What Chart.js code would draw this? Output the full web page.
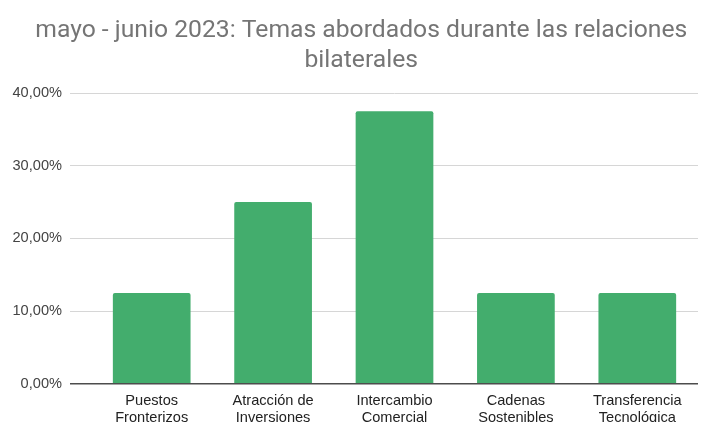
<!DOCTYPE html>
<html>
<head>
<meta charset="utf-8">
<script src="https://cdn.jsdelivr.net/npm/chart.js@4"></script>
<style>
  html, body { margin: 0; padding: 0; background: #fff; overflow: hidden; }
  .wrap { width: 707px; height: 422px; overflow: hidden; }
</style>
</head>
<body>
<div class="wrap"><canvas id="chart" width="707" height="440"></canvas></div>
<script>
const titleLines = [
  "mayo - junio 2023: Temas abordados durante las relaciones",
  "bilaterales",
];
const categories = [
  ["Puestos", "Fronterizos"],
  ["Atracción de", "Inversiones"],
  ["Intercambio", "Comercial"],
  ["Cadenas", "Sostenibles"],
  ["Transferencia", "Tecnológica"],
];
const shares = [0.125, 0.25, 0.375, 0.125, 0.125];
const yTicks = [0, 0.1, 0.2, 0.3, 0.4];

const fmtPct = (v) => (v * 100).toFixed(2).replace(".", ",") + "%";
// the title sits a little right of centre in the original
const nudge = "\u00a0\u00a0\u00a0\u00a0";

const ctx = document.getElementById("chart").getContext("2d");
const chart = new Chart(ctx, {
  type: "bar",
  data: {
    labels: categories,
    datasets: [
      {
        label: "Temas",
        data: shares,
        backgroundColor: "#43ad6d",
        borderRadius: 2,
        categoryPercentage: 1,
        barPercentage: 0.64,
      },
    ],
  },
  options: {
    responsive: false,
    animation: false,
    layout: { padding: { left: 0, right: 9, top: 0, bottom: 4 } },
    plugins: {
      legend: { display: false },
      tooltip: { enabled: false },
      title: {
        display: true,
        text: titleLines.map((t) => nudge + t),
        color: "#757575",
        font: { family: "Roboto", size: 24.7, weight: "normal", lineHeight: 1.215 },
        padding: { top: 16, bottom: 17 },
      },
    },
    scales: {
      x: {
        grid: { display: false, drawTicks: false },
        border: { display: false },
        ticks: {
          color: "#222",
          font: { family: "Liberation Sans", size: 14.6, lineHeight: 1.17 },
          padding: 9,
          maxRotation: 0,
          autoSkip: false,
        },
      },
      y: {
        min: 0,
        max: 0.4,
        afterBuildTicks: (scale) => {
          scale.ticks = yTicks.map((v) => ({ value: v }));
        },
        afterFit: (scale) => {
          scale.width = 91;
        },
        border: { display: false },
        grid: {
          color: (c) => (c.tick && c.tick.value === 0 ? "#4d4d4d" : "#d6d6d6"),
          tickColor: (c) => (c.tick && c.tick.value === 0 ? "#4d4d4d" : "#d6d6d6"),
          lineWidth: (c) => (c.tick && c.tick.value === 0 ? 1.5 : 1),
          tickLength: 21,
        },
        ticks: {
          color: "#444",
          font: { family: "Liberation Sans", size: 14.6 },
          padding: 8,
          callback: (v) => fmtPct(v),
        },
      },
    },
  },
});
</script>
</body>
</html>
